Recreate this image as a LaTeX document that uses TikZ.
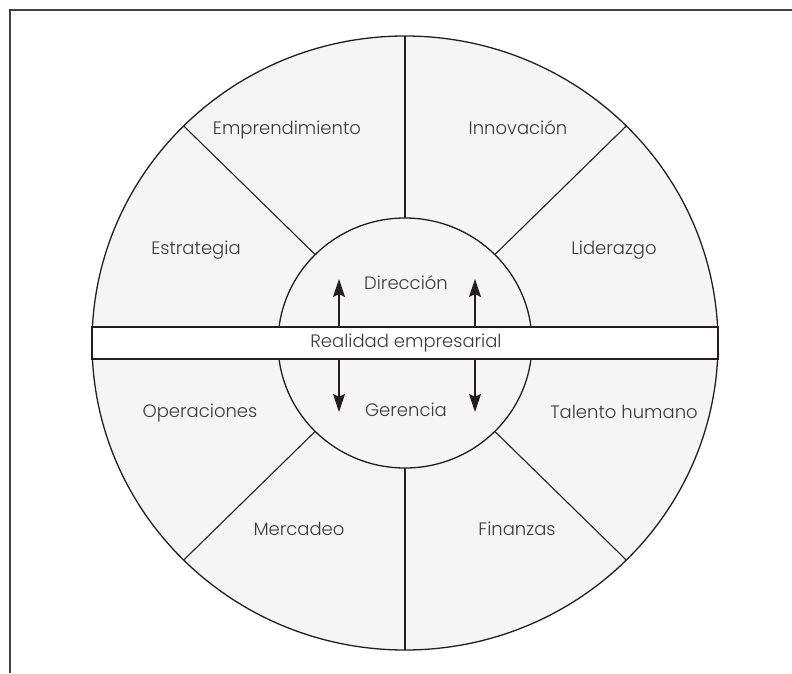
\documentclass[tikz,border=0pt]{standalone}
\usepackage{fontspec}
\setmainfont{Poppins}[UprightFont={* Light}]
\usetikzlibrary{arrows.meta,calc}
\definecolor{ink}{HTML}{231F20}
\definecolor{paper}{HTML}{F5F5F5}
\definecolor{txt}{HTML}{3A3A3A}
\tikzset{
  frameline/.style={draw=ink!85, line width=1.5pt},
  wheel/.style={draw=ink, line width=1.3pt},
  spoke/.style={draw=ink, line width=1.1pt},
  label/.style={text=txt, font=\fontsize{18}{21}\selectfont, inner sep=0pt},
  flow/.style={draw=ink, line width=1.2pt, -{Stealth[length=18pt,width=12pt,inset=3pt]}}
}
\begin{document}
\begin{tikzpicture}[x=1pt,y=-1pt]
\useasboundingbox (0,0) rectangle (792,673);
% partial frame: top and left edges
\draw[frameline] (792,10) -- (10,10) -- (10,673);
% centre of the wheel
\coordinate (c) at (405,343);
% outer disc
\fill[paper] (c) ellipse [x radius=313, y radius=307];
% spokes between the inner and outer rings
\foreach \a in {45,90,135,225,270,315}{
  \draw[spoke] ($(c)+({127*cos(\a)},{-125*sin(\a)})$) -- ($(c)+({313*cos(\a)},{-307*sin(\a)})$);
}
% inner ring
\draw[wheel, fill=paper] (c) ellipse [x radius=127, y radius=125];
% horizontal band
\draw[wheel, fill=white] (92,327) rectangle (718,359);
\node[label] (band) at (406,343) {Realidad empresarial};
% outer ring outline
\draw[wheel] (c) ellipse [x radius=313, y radius=307];
% sector labels
\node[label] (emp) at (287,130) {Emprendimiento};
\node[label] (inn) at (518,128) {Innovación};
\node[label] (est) at (196,250) {Estrategia};
\node[label] (lid) at (614,250) {Liderazgo};
\node[label] (ope) at (200,413) {Operaciones};
\node[label] (tal) at (624,412) {Talento humano};
\node[label] (mer) at (299,529) {Mercadeo};
\node[label] (fin) at (517,529) {Finanzas};
\node[label] (dir) at (406,283) {Dirección};
\node[label] (ger) at (406,410) {Gerencia};
% arrows leaving the band
\coordinate (ul0) at (339,327); \coordinate (ul1) at (339,279);
\coordinate (ur0) at (475,327); \coordinate (ur1) at (475,279);
\coordinate (dl0) at (339,359); \coordinate (dl1) at (339,412);
\coordinate (dr0) at (475,359); \coordinate (dr1) at (475,412);
\draw[flow] (ul0) -- (ul1);
\draw[flow] (ur0) -- (ur1);
\draw[flow] (dl0) -- (dl1);
\draw[flow] (dr0) -- (dr1);
\end{tikzpicture}
\end{document}
